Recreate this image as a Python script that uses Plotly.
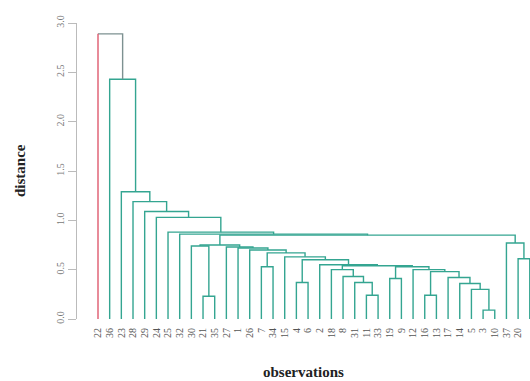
import plotly.graph_objects as go

# leaf labels in dendrogram order (left to right)
leaf_labels = ["22", "36", "23", "28", "29", "24", "25", "32", "30", "21",
               "35", "27", "1", "26", "7", "34", "15", "4", "6", "2",
               "18", "8", "31", "11", "33", "19", "9", "12", "16", "13",
               "17", "14", "5", "3", "10", "37", "20", "38"]

# merges (scipy-like): children are leaf positions (0..37) or node ids (38+k)
merge_left = [33, 9, 23, 28, 32, 31, 17, 22, 25, 30, 21, 41, 20, 27, 14, 46, 50, 19,
              44, 36, 16, 52, 13, 12, 11, 8, 63, 35, 64, 7, 6, 5, 4, 3, 2, 1, 0]
merge_right = [34, 10, 24, 29, 38, 42, 18, 40, 26, 43, 45, 47, 48, 49, 15, 51, 53, 54,
               55, 37, 56, 58, 59, 60, 61, 39, 62, 57, 65, 66, 67, 68, 69, 70, 71, 72, 73]
merge_height = [0.09, 0.23, 0.24, 0.24, 0.30, 0.36, 0.37, 0.37, 0.41, 0.42, 0.43, 0.48,
                0.50, 0.50, 0.53, 0.53, 0.54, 0.55, 0.60, 0.61, 0.63, 0.67, 0.70, 0.72,
                0.73, 0.74, 0.75, 0.77, 0.85, 0.86, 0.88, 1.03, 1.09, 1.19, 1.29, 2.43, 2.89]

y_ticks = [0.0, 0.5, 1.0, 1.5, 2.0, 2.5, 3.0]

TEAL = "rgb(52,165,145)"
RED = "rgb(222,90,110)"
GREY = "rgb(125,145,145)"

n = len(leaf_labels)
node_x = {i: float(i) for i in range(n)}
node_h = {i: 0.0 for i in range(n)}

teal_x, teal_y = [], []
top_x, top_y = [], []
red_x, red_y = [], []
last = len(merge_height) - 1
for k, (a, b, h) in enumerate(zip(merge_left, merge_right, merge_height)):
    xa, xb = node_x[a], node_x[b]
    ha, hb = node_h[a], node_h[b]
    node_x[n + k] = (xa + xb) / 2
    node_h[n + k] = h
    if k == last:
        red_x += [xa, xa, None]
        red_y += [ha, h, None]
        top_x += [xa, xb, xb, None]
        top_y += [h, h, hb, None]
    else:
        teal_x += [xa, xa, xb, xb, None]
        teal_y += [ha, h, h, hb, None]

fig = go.Figure()
for xs, ys, c in [(teal_x, teal_y, TEAL), (top_x, top_y, GREY), (red_x, red_y, RED)]:
    fig.add_trace(go.Scatter(x=xs, y=ys, mode="lines", line=dict(color=c, width=1.4),
                             hoverinfo="skip", showlegend=False))

serif = "Liberation Serif"
fig.update_layout(
    width=530, height=381,
    margin=dict(l=77, r=0, t=23, b=62),
    paper_bgcolor="white", plot_bgcolor="white",
    xaxis=dict(range=[-1.8, 37.02], tickmode="array", tickvals=list(range(n)),
               ticktext=leaf_labels, tickangle=-90, showgrid=False, zeroline=False,
               showline=False, ticks="outside", ticklen=4, tickcolor="rgba(0,0,0,0)",
               automargin=False,
               tickfont=dict(family=serif, size=10, color="#555")),
    yaxis=dict(range=[0, 3.0], tickmode="array", tickvals=y_ticks,
               ticktext=[f"{v:.1f}" for v in y_ticks], tickangle=-90,
               showgrid=False, zeroline=False, showline=True, linecolor="#bbb", linewidth=1,
               ticks="outside", ticklen=8, tickcolor="#bbb", automargin=False,
               tickfont=dict(family=serif, size=10, color="#777")),
    annotations=[
        dict(text="<b>observations</b>", xref="paper", yref="paper", x=0.5, y=0,
             xanchor="center", yanchor="middle", yshift=-53, showarrow=False,
             font=dict(family=serif, size=15, color="#222")),
        dict(text="<b>distance</b>", xref="paper", yref="paper", x=0, y=0.5,
             xanchor="center", yanchor="middle", xshift=-57, textangle=-90, showarrow=False,
             font=dict(family=serif, size=15, color="#222")),
    ],
)
fig.write_html("out.html", config={"displayModeBar": False},
               post_script="document.body.style.margin='0';")
